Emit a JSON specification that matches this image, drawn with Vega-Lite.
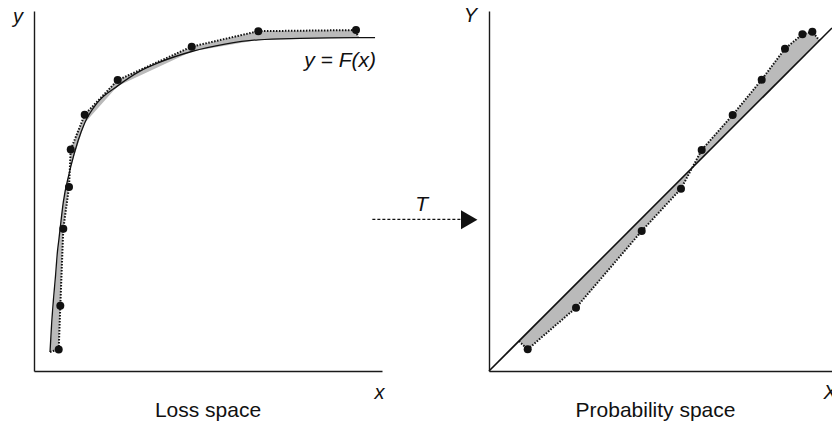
{
  "$schema": "https://vega.github.io/schema/vega-lite/v6.json",
  "padding": {"left": 12, "top": 5, "right": 0, "bottom": 0},
  "spacing": 107,
  "bounds": "flush",
  "config": {
    "view": {"stroke": null},
    "font": "Liberation Sans",
    "axis": {
      "domainColor": "#1a1a1a",
      "domainWidth": 1.4,
      "ticks": false,
      "labels": false,
      "grid": false,
      "titleFont": "Liberation Sans",
      "titleFontSize": 20,
      "titleFontStyle": "italic",
      "titleFontWeight": "normal",
      "titleColor": "#111111",
      "titleAngle": 0,
      "titleAlign": "center",
      "titleBaseline": "alphabetic",
      "titlePadding": 0
    },
    "title": {
      "font": "Liberation Sans",
      "fontSize": 21,
      "fontWeight": "normal",
      "color": "#111111",
      "orient": "bottom",
      "anchor": "middle",
      "frame": "group",
      "baseline": "top",
      "offset": -2
    }
  },
  "datasets": {
    "loss": [
      {"x": 4.60, "F": 5.3, "y": 5.3, "dot": false},
      {"x": 5.03, "F": 12.5},
      {"x": 5.55, "F": 19.4},
      {"x": 6.18, "F": 26.4},
      {"x": 6.75, "F": 33.3},
      {"x": 7.10, "F": 36.1, "y": 6.0, "dot": true},
      {"x": 7.56, "F": 40.0, "y": 18.1, "dot": true},
      {"x": 8.42, "F": 46.9, "y": 39.5, "dot": true},
      {"x": 10.06, "F": 54.7, "y": 51.1, "dot": true},
      {"x": 10.55, "F": 56.7, "y": 61.5, "dot": true},
      {"x": 12.64, "F": 63.9},
      {"x": 14.57, "F": 68.9, "y": 71.2, "dot": true},
      {"x": 18.10, "F": 74.4},
      {"x": 24.05, "F": 79.2, "y": 80.8, "dot": true},
      {"x": 30.46, "F": 83.3},
      {"x": 36.21, "F": 85.8},
      {"x": 45.32, "F": 88.75, "y": 90.1, "dot": true},
      {"x": 54.89, "F": 90.8},
      {"x": 64.45, "F": 92.0, "y": 94.4, "dot": true},
      {"x": 76.44, "F": 92.4},
      {"x": 92.53, "F": 92.6, "y": 94.7, "dot": true},
      {"x": 93.10, "F": 92.6, "y": 92.6, "dot": false},
      {"x": 98.00, "F": 92.6, "label": "y = F(x)"}
    ],
    "prob": [
      {"x": 0.083, "y": 0.083, "dot": false, "label": "T"},
      {"x": 0.1075, "y": 0.0603, "dot": true},
      {"x": 0.2417, "y": 0.1758, "dot": true},
      {"x": 0.4242, "y": 0.3889, "dot": true},
      {"x": 0.5333, "y": 0.5064, "dot": true},
      {"x": 0.5908, "y": 0.6139, "dot": true},
      {"x": 0.6769, "y": 0.7111, "dot": true},
      {"x": 0.7575, "y": 0.8092, "dot": true},
      {"x": 0.8222, "y": 0.8953, "dot": true},
      {"x": 0.8706, "y": 0.9353, "dot": true},
      {"x": 0.8983, "y": 0.9425, "dot": true},
      {"x": 0.918, "y": 0.918, "dot": false}
    ],
    "diagonal": [
      {"x": 0, "y": 0},
      {"x": 0.9528, "y": 0.9528}
    ]
  },
  "hconcat": [
    {
      "width": 348,
      "height": 360,
      "title": {"text": "Loss space"},
      "data": {"name": "loss"},
      "encoding": {
        "x": {
          "field": "x",
          "type": "quantitative",
          "scale": {"domain": [0, 100]},
          "axis": {"title": "x", "titleX": 345, "titleY": 27}
        }
      },
      "layer": [
        {
          "transform": [{"filter": "isValid(datum.y)"}],
          "mark": {"type": "area", "fill": "#bababa", "opacity": 1},
          "encoding": {
            "y": {
              "field": "y",
              "type": "quantitative",
              "scale": {"domain": [0, 100]},
              "axis": {"title": "y", "titleX": -16.5, "titleY": 11}
            },
            "y2": {"field": "F"}
          }
        },
        {
          "mark": {"type": "line", "color": "#111111", "strokeWidth": 1.3, "interpolate": "monotone"},
          "encoding": {"y": {"field": "F", "type": "quantitative", "title": "y"}}
        },
        {
          "transform": [{"filter": "isValid(datum.y)"}],
          "mark": {"type": "line", "color": "#111111", "strokeWidth": 2, "strokeDash": [1.5, 1.5]},
          "encoding": {"y": {"field": "y", "type": "quantitative", "title": "y"}}
        },
        {
          "transform": [{"filter": "datum.dot === true"}],
          "mark": {"type": "point", "filled": true, "color": "#111111", "size": 64, "opacity": 1},
          "encoding": {"y": {"field": "y", "type": "quantitative", "title": "y"}}
        },
        {
          "transform": [{"filter": "isValid(datum.label)"}],
          "mark": {"type": "text", "font": "Liberation Sans", "fontStyle": "italic", "fontSize": 21, "align": "right", "baseline": "alphabetic", "dy": 29, "dx": 1, "color": "#111111"},
          "encoding": {
            "y": {"field": "F", "type": "quantitative", "title": "y"},
            "text": {"field": "label"}
          }
        }
      ]
    },
    {
      "width": 343,
      "height": 360,
      "title": {"text": "Probability space", "dx": -5},
      "data": {"name": "prob"},
      "encoding": {
        "x": {
          "field": "x",
          "type": "quantitative",
          "scale": {"domain": [0, 0.9528]},
          "axis": {"title": "X", "titleX": 340.7, "titleY": 27}
        }
      },
      "layer": [
        {
          "mark": {"type": "area", "fill": "#bababa", "opacity": 1},
          "encoding": {
            "y": {
              "field": "y",
              "type": "quantitative",
              "scale": {"domain": [0, 1]},
              "axis": {"title": "Y", "titleX": -19, "titleY": 10.7}
            },
            "y2": {"field": "x"}
          }
        },
        {
          "data": {"name": "diagonal"},
          "mark": {"type": "line", "color": "#111111", "strokeWidth": 1.6},
          "encoding": {"y": {"field": "y", "type": "quantitative", "title": "Y"}}
        },
        {
          "mark": {"type": "line", "color": "#111111", "strokeWidth": 2, "strokeDash": [1.5, 1.5]},
          "encoding": {"y": {"field": "y", "type": "quantitative", "title": "Y"}}
        },
        {
          "transform": [{"filter": "datum.dot === true"}],
          "mark": {"type": "point", "filled": true, "color": "#111111", "size": 64, "opacity": 1},
          "encoding": {"y": {"field": "y", "type": "quantitative", "title": "Y"}}
        },
        {
          "transform": [{"filter": "isValid(datum.label)"}],
          "mark": {"type": "rule", "color": "#111111", "strokeWidth": 1.2, "strokeDash": [3, 2]},
          "encoding": {
            "x": {"datum": -0.324},
            "x2": {"datum": -0.078},
            "y": {"datum": 0.4214}
          }
        },
        {
          "transform": [{"filter": "isValid(datum.label)"}],
          "mark": {"type": "point", "shape": "triangle-right", "size": 361, "filled": true, "color": "#111111", "opacity": 1},
          "encoding": {"x": {"datum": -0.055}, "y": {"datum": 0.42}}
        },
        {
          "transform": [{"filter": "isValid(datum.label)"}],
          "mark": {"type": "text", "font": "Liberation Sans", "fontStyle": "italic", "fontSize": 21, "align": "center", "baseline": "alphabetic", "color": "#111111"},
          "encoding": {
            "x": {"datum": -0.187},
            "y": {"datum": 0.444},
            "text": {"field": "label"}
          }
        }
      ]
    }
  ]
}
